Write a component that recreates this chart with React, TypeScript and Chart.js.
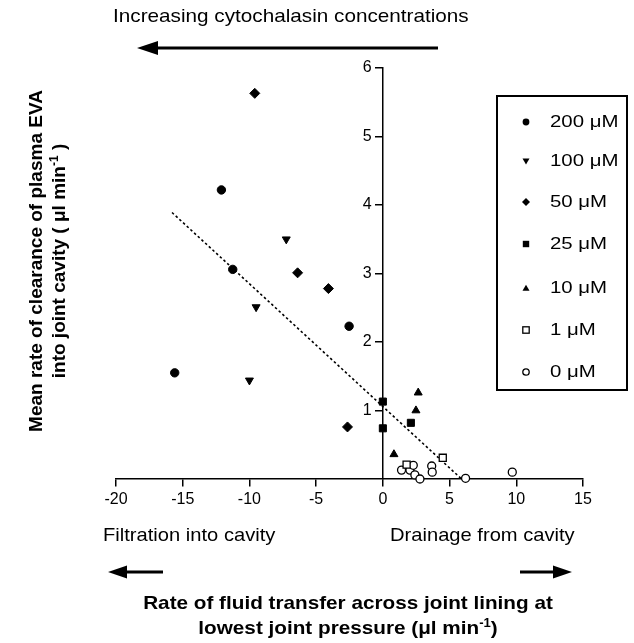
import React, { useEffect, useRef } from "react";
import Chart from "chart.js/auto";

// ---- data ----
const s200X = [-12.1, -11.25, -2.53, -15.6];
const s200Y = [4.22, 3.06, 2.23, 1.55];
const s100X = [-7.24, -9.5, -10.0];
const s100Y = [3.5, 2.51, 1.44];
const s50X = [-9.6, -6.39, -4.08, -2.65];
const s50Y = [5.63, 3.01, 2.78, 0.76];
const s25X = [0, 0, 2.1];
const s25Y = [1.13, 0.74, 0.82];
const s10X = [2.65, 2.48, 0.83];
const s10Y = [1.26, 1.0, 0.36];
const s1X = [4.49, 1.78];
const s1Y = [0.31, 0.21];
const s0X = [1.4, 2.03, 2.28, 2.4, 2.78, 3.66, 3.7, 6.2, 9.7];
const s0Y = [0.13, 0.13, 0.2, 0.06, 0.0, 0.19, 0.1, 0.01, 0.1];
const fitX = [-15.8, 5.9];
const fitY = [3.89, 0.0];

const legendLabels = ["200 μM", "100 μM", "50 μM", "25 μM", "10 μM", "1 μM", "0 μM"];
const xMin = -20;
const xMax = 15;
const xStep = 5;
const yMin = 0;
const yMax = 6;
const yStep = 1;

const FONT = "'Liberation Sans', Arial, Helvetica, sans-serif";

const pts = (xs: number[], ys: number[]) => xs.map((x, i) => ({ x, y: ys[i] }));

function Marker({ kind }: { kind: number }) {
  const s = 14;
  const c = 7;
  let el: any = null;
  if (kind === 0) el = <circle cx={c} cy={c} r={3.4} fill="#000" />;
  if (kind === 1) el = <polygon points="3.5,4.5 10.5,4.5 7,10.5" fill="#000" />;
  if (kind === 2) el = <polygon points="7,3 11,7 7,11 3,7" fill="#000" />;
  if (kind === 3) el = <rect x={3.8} y={3.8} width={6.4} height={6.4} fill="#000" />;
  if (kind === 4) el = <polygon points="3.5,9.8 10.5,9.8 7,3.8" fill="#000" />;
  if (kind === 5) el = <rect x={3.8} y={3.8} width={6.4} height={6.4} fill="#fff" stroke="#000" strokeWidth={1.3} />;
  if (kind === 6) el = <circle cx={c} cy={c} r={3.2} fill="#fff" stroke="#000" strokeWidth={1.3} />;
  return (
    <svg width={s} height={s} style={{ display: "block" }}>
      {el}
    </svg>
  );
}

export default function App() {
  const ref = useRef<HTMLCanvasElement | null>(null);

  useEffect(() => {
    const canvas = ref.current;
    if (!canvas) return;
    const black = "#000";
    const common = { showLine: false, clip: false as any, borderColor: black, borderWidth: 1 };
    const chart = new Chart(canvas, {
      type: "scatter",
      data: {
        datasets: [
          { ...common, label: legendLabels[0], data: pts(s200X, s200Y), pointStyle: "circle", pointRadius: 4.2, backgroundColor: black },
          { ...common, label: legendLabels[1], data: pts(s100X, s100Y), pointStyle: "triangle", pointRotation: 180, pointRadius: 4.6, backgroundColor: black },
          { ...common, label: legendLabels[2], data: pts(s50X, s50Y), pointStyle: "rectRot", pointRadius: 5, backgroundColor: black },
          { ...common, label: legendLabels[3], data: pts(s25X, s25Y), pointStyle: "rect", pointRadius: 5, backgroundColor: black },
          { ...common, label: legendLabels[4], data: pts(s10X, s10Y), pointStyle: "triangle", pointRadius: 4.6, backgroundColor: black },
          { ...common, label: legendLabels[5], data: pts(s1X, s1Y), pointStyle: "rect", pointRadius: 5, backgroundColor: "#fff", borderWidth: 1.3 },
          { ...common, label: legendLabels[6], data: pts(s0X, s0Y), pointStyle: "circle", pointRadius: 4, backgroundColor: "#fff", borderWidth: 1.3 },
          {
            label: "fit",
            data: pts(fitX, fitY),
            showLine: true,
            borderColor: black,
            borderWidth: 1.6,
            borderDash: [2.5, 2.5],
            pointRadius: 0,
            clip: false as any,
          },
        ] as any,
      },
      options: {
        animation: false,
        responsive: false,
        devicePixelRatio: 1,
        layout: { padding: { left: 116, right: 51, top: 68, bottom: 164 } },
        plugins: { legend: { display: false }, tooltip: { enabled: false } },
        scales: {
          x: {
            type: "linear",
            position: { y: 0 } as any,
            min: xMin,
            max: xMax,
            ticks: { stepSize: xStep, color: black, font: { family: FONT, size: 16 }, padding: 4, maxRotation: 0, autoSkip: false },
            grid: { drawOnChartArea: false, drawTicks: true, tickLength: 7, color: black, lineWidth: 1.5 },
            border: { display: true, color: black, width: 1.5 },
          },
          y: {
            type: "linear",
            position: { x: 0 } as any,
            min: yMin,
            max: yMax,
            ticks: {
              stepSize: yStep,
              color: black,
              font: { family: FONT, size: 16 },
              padding: 3,
              callback: (v: any) => (Number(v) === 0 ? "" : String(v) + "\u2002\u2009"),
            },
            grid: {
              drawOnChartArea: false,
              drawTicks: true,
              tickLength: 7,
              lineWidth: 1.5,
              color: (ctx: any) => (ctx.tick && ctx.tick.value === 0 ? "rgba(0,0,0,0)" : black),
            },
            border: { display: true, color: black, width: 1.5 },
          },
        },
      },
    });
    return () => chart.destroy();
  }, []);

  const txt = (left: number, cy: number, size: number, k: number, content: any, extra: any = {}) => (
    <div
      style={{
        position: "absolute",
        left,
        top: cy - 12,
        lineHeight: "24px",
        fontSize: size,
        fontFamily: FONT,
        whiteSpace: "nowrap",
        color: "#000",
        transform: `scaleX(${k})`,
        transformOrigin: "0 50%",
        ...extra,
      }}
    >
      {content}
    </div>
  );

  const legendY = [122, 161, 202, 244, 288, 330, 372];

  return (
    <div style={{ position: "fixed", left: 0, top: 0, width: 634, height: 643, background: "#fff", overflow: "hidden" }}>
      <canvas ref={ref} width={634} height={643} style={{ position: "absolute", left: 0, top: 0, width: 634, height: 643 }} />
      <svg width={634} height={643} style={{ position: "absolute", left: 0, top: 0, pointerEvents: "none" }}>
        <line x1={152} y1={48} x2={438} y2={48} stroke="#000" strokeWidth={3} />
        <polygon points="137,48 158,41 158,55" fill="#000" />
        <line x1={124} y1={572} x2={163} y2={572} stroke="#000" strokeWidth={3} />
        <polygon points="108,572 127,565.5 127,578.5" fill="#000" />
        <line x1={520} y1={572} x2={556} y2={572} stroke="#000" strokeWidth={3} />
        <polygon points="572,572 553,565.5 553,578.5" fill="#000" />
      </svg>
      {txt(113, 16, 19, 1.09, "Increasing cytochalasin concentrations")}
      {txt(103, 535, 19, 1.06, "Filtration into cavity")}
      {txt(390, 535, 19, 1.06, "Drainage from cavity")}
      <div
        style={{
          position: "absolute",
          left: 98,
          top: 590,
          width: 500,
          textAlign: "center",
          fontFamily: FONT,
          fontWeight: "bold",
          fontSize: 19,
          lineHeight: "25px",
          whiteSpace: "nowrap",
          transform: "scaleX(1.09)",
          transformOrigin: "50% 50%",
        }}
      >
        <div>Rate of fluid transfer across joint lining at</div>
        <div>
          lowest joint pressure (μl min<sup style={{ fontSize: 12, lineHeight: 0 }}>-1</sup>)
        </div>
      </div>
      <div
        style={{
          position: "absolute",
          left: 46.5 - 220,
          top: 261 - 23,
          width: 440,
          height: 46,
          textAlign: "center",
          fontFamily: FONT,
          fontWeight: "bold",
          fontSize: 19,
          lineHeight: "23px",
          whiteSpace: "nowrap",
          transform: "rotate(-90deg)",
          transformOrigin: "50% 50%",
        }}
      >
        <div>Mean rate of clearance of plasma EVA</div>
        <div>
          into joint cavity ( μl min<sup style={{ fontSize: 12, lineHeight: 0 }}>-1</sup> )
        </div>
      </div>
      <div
        style={{
          position: "absolute",
          left: 496,
          top: 95,
          width: 132,
          height: 296,
          border: "2px solid #000",
          boxSizing: "border-box",
          background: "#fff",
        }}
      />
      {legendLabels.map((lab, i) => (
        <React.Fragment key={lab}>
          <div style={{ position: "absolute", left: 519, top: legendY[i] - 7 }}>
            <Marker kind={i} />
          </div>
          {txt(550, legendY[i], 17, 1.2, lab)}
        </React.Fragment>
      ))}
    </div>
  );
}
